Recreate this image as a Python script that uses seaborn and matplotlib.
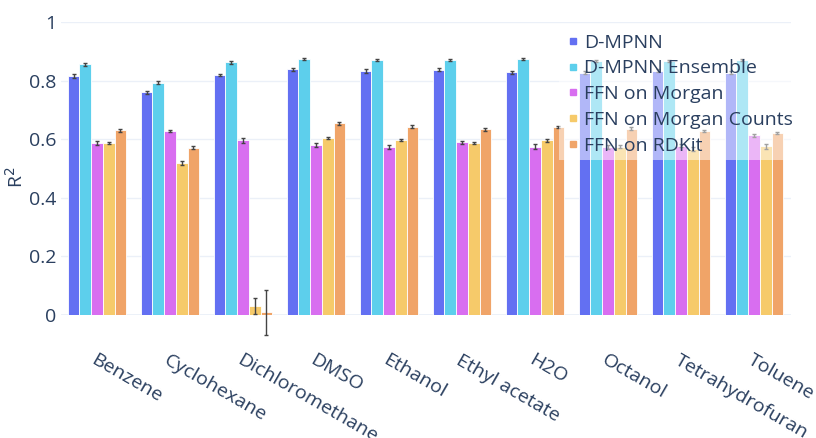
import matplotlib
matplotlib.use('Agg')
import matplotlib.pyplot as plt
from matplotlib.lines import Line2D
import seaborn as sns
import pandas as pd
import numpy as np

# %%
solvents = ['Benzene', 'Cyclohexane', 'Dichloromethane', 'DMSO', 'Ethanol',
            'Ethyl acetate', 'H2O', 'Octanol', 'Tetrahydrofuran', 'Toluene']
models = ['D-MPNN', 'D-MPNN Ensemble', 'FFN on Morgan',
          'FFN on Morgan Counts', 'FFN on RDKit']

r2_dmpnn = [0.817, 0.760, 0.819, 0.838, 0.832, 0.837, 0.828, 0.827, 0.833, 0.827]
r2_ensemble = [0.855, 0.792, 0.862, 0.873, 0.871, 0.871, 0.874, 0.868, 0.868, 0.870]
r2_morgan = [0.587, 0.629, 0.596, 0.581, 0.574, 0.590, 0.575, 0.574, 0.578, 0.613]
r2_counts = [0.586, 0.520, 0.031, 0.603, 0.597, 0.587, 0.597, 0.575, 0.568, 0.576]
r2_rdkit = [0.630, 0.571, 0.010, 0.654, 0.643, 0.634, 0.641, 0.636, 0.629, 0.621]

err_dmpnn = [0.007, 0.005, 0.004, 0.005, 0.006, 0.005, 0.006, 0.006, 0.005, 0.005]
err_ensemble = [0.004, 0.005, 0.004, 0.003, 0.003, 0.003, 0.002, 0.004, 0.003, 0.003]
err_morgan = [0.006, 0.004, 0.008, 0.006, 0.007, 0.005, 0.007, 0.006, 0.005, 0.004]
err_counts = [0.003, 0.007, 0.028, 0.004, 0.004, 0.003, 0.005, 0.006, 0.007, 0.008]
err_rdkit = [0.005, 0.006, 0.077, 0.005, 0.005, 0.005, 0.004, 0.004, 0.003, 0.002]

colors = ['#6370F2', '#5DCFEC', '#D86EF0', '#F6CA6A', '#F0A468']

# %%
df = pd.DataFrame({
    'solvent': solvents * 5,
    'model': np.repeat(models, len(solvents)),
    'r2': r2_dmpnn + r2_ensemble + r2_morgan + r2_counts + r2_rdkit,
})
errs = [err_dmpnn, err_ensemble, err_morgan, err_counts, err_rdkit]

sns.set_theme(style='white')
plt.rcParams['font.family'] = ['Open Sans', 'DejaVu Sans']
text_col = '#2a3f5f'

fig = plt.figure(figsize=(8.16, 4.38), dpi=100)
ax = fig.add_axes([60.5 / 816, 1 - 315 / 438, 730 / 816, 293 / 438])

sns.barplot(data=df, x='solvent', y='r2', hue='model', palette=colors,
            errorbar=None, width=0.8, gap=0, saturation=1, ax=ax,
            edgecolor='#ffffff', linewidth=0.6, zorder=2)

for cont, err in zip(ax.containers, errs):
    xs = [b.get_x() + b.get_width() / 2 for b in cont]
    ys = [b.get_height() for b in cont]
    ax.errorbar(xs, ys, yerr=err, fmt='none', ecolor='#444444',
                elinewidth=1, capsize=1.6, capthick=1, zorder=3,
                clip_on=False)

ax.set_ylim(0, 1)
ax.set_xlim(-0.5, len(solvents) - 0.5)
ax.set_yticks([0, 0.2, 0.4, 0.6, 0.8, 1])
ax.set_yticklabels(['0', '0.2', '0.4', '0.6', '0.8', '1'])
ax.yaxis.grid(True, color='#EBF0F8', linewidth=1, zorder=0)
ax.axhline(0, color='#EBF0F8', linewidth=2, zorder=1)
for s in ax.spines.values():
    s.set_visible(False)
ax.tick_params(axis='both', length=0, labelsize=14, labelcolor=text_col)
ax.tick_params(axis='y', pad=3)
ax.set_xlabel('')
ax.set_ylabel('R$^2$', fontsize=14, color=text_col)
ax.yaxis.set_label_coords(-0.046, 0.47)

ax.set_xticks(range(len(solvents)))
ax.set_xticklabels(solvents, rotation=-30, ha='left', va='top',
                   rotation_mode='anchor')
ax.tick_params(axis='x', pad=26)

handles = [Line2D([0], [0], marker='s', linestyle='', markersize=5,
                  markerfacecolor=c, markeredgecolor=c) for c in colors]
ax.legend(handles, models, loc='upper left', bbox_to_anchor=(0.67, 1.01),
          frameon=True, framealpha=0.5, facecolor='white', edgecolor='none',
          fontsize=14, labelcolor=text_col, handletextpad=0.1,
          handlelength=0.9, labelspacing=0.4, borderpad=0.25, fancybox=False)

fig.savefig('out.png', dpi=100)
